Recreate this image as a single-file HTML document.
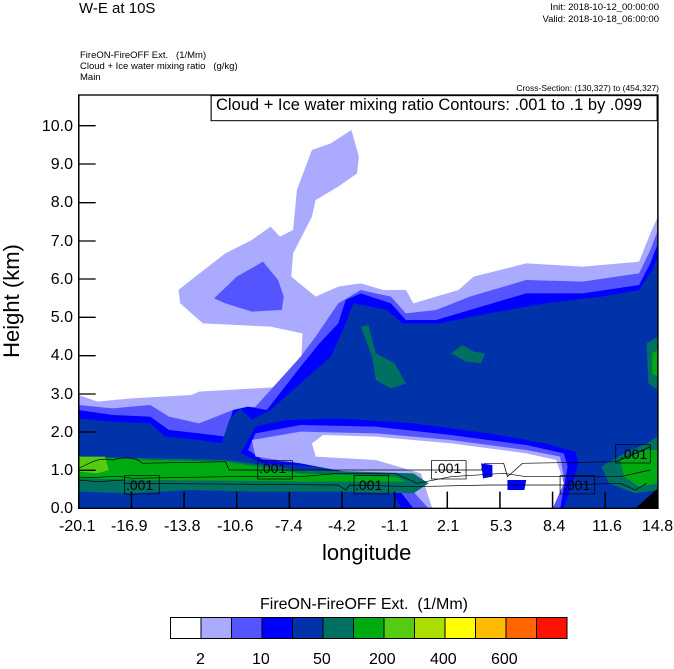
<!DOCTYPE html>
<html><head><style>
body{margin:0;background:#fff;width:674px;height:667px;position:relative;overflow:hidden;font-family:"Liberation Sans",sans-serif;color:#000}
.t{position:absolute;white-space:nowrap}
</style></head><body>
<div class="t" style="left:79px;top:0px;font-size:15px">W-E at 10S</div>
<div class="t" style="right:15px;top:2px;font-size:9.5px;text-align:right;line-height:12px">Init: 2018-10-12_00:00:00<br>Valid: 2018-10-18_06:00:00</div>
<div class="t" style="left:80px;top:50px;font-size:9.5px;line-height:11px">FireON-FireOFF Ext.&nbsp;&nbsp; (1/Mm)<br>Cloud + Ice water mixing ratio&nbsp;&nbsp; (g/kg)<br>Main</div>
<div class="t" style="right:15px;top:83px;font-size:8.5px">Cross-Section: (130,327) to (454,327)</div>

<svg style="position:absolute;left:75px;top:90px" width="584" height="420" viewBox="0 0 1553 1260" preserveAspectRatio="none">
<rect x="10" y="15" width="1540" height="1240" fill="#fff"/>
<path fill="#aaaaff" d="M10,915 L60,935 150,925 310,915 330,905 560,890 600,860 605,730 520,710 340,700 280,640 275,600 320,560 400,490 470,450 520,410 545,440 580,420 590,300 630,180 680,160 735,120 755,200 750,250 700,290 640,330 630,380 580,490 575,560 640,620 700,590 760,580 820,600 880,600 900,640 960,620 1020,600 1060,560 1200,520 1350,530 1500,515 1530,430 1550,380 L1550,1255 10,1255Z"/>
<path fill="#5555ff" d="M370,625 430,560 500,515 540,570 555,620 550,660 470,665 400,640Z"/>
<path fill="#5555ff" d="M10,945 L100,955 200,945 250,980 330,1000 420,960 480,950 600,800 640,740 700,640 760,600 840,620 880,670 960,660 1050,620 1200,570 1350,575 1500,550 1530,480 1550,420 L1550,1255 10,1255Z"/>
<path fill="#0000ff" d="M10,960 L100,975 200,980 250,1020 330,1030 400,1040 420,960 460,950 510,960 600,830 650,760 700,700 720,630 760,610 840,640 880,690 960,690 1050,660 1200,610 1350,610 1500,585 1530,520 1550,460 L1550,1255 10,1255Z"/>
<path fill="#0033aa" d="M10,985 L100,995 200,1000 240,1040 330,1050 390,1060 410,990 440,955 470,990 520,960 600,880 680,800 720,700 740,640 830,660 870,700 970,700 1100,670 1250,640 1400,620 1500,600 1535,540 1550,500 L1550,1255 10,1255Z"/>
<path fill="#0000ff" d="M480,1010 L560,990 700,985 900,1000 1100,1030 1250,1060 1330,1085 1340,1120 1300,1255 870,1255 800,1140 500,1120 440,1090Z"/>
<path fill="#5555ff" d="M480,1030 L600,1005 800,1010 1000,1035 1200,1065 1300,1090 1310,1130 1290,1255 900,1255 820,1140 500,1110 460,1080Z"/>
<path fill="#aaaaff" d="M470,1050 L600,1025 800,1030 1000,1050 1200,1080 1290,1100 1300,1160 1280,1230 1120,1240 940,1255 880,1180 600,1120 480,1100Z"/>
<path fill="#fff" d="M630,1060 L660,1035 800,1040 1000,1060 1200,1090 1280,1110 1300,1180 1270,1255 950,1255 920,1150 800,1110 640,1100Z"/>
<path fill="#007060" d="M10,1100 L400,1110 600,1140 900,1150 940,1180 900,1210 700,1205 500,1205 300,1200 150,1210 10,1205Z"/>
<path fill="#00aa11" d="M10,1100 L200,1110 400,1115 600,1150 850,1160 880,1175 600,1175 400,1172 200,1170 10,1165Z"/>
<path fill="#55cc11" d="M10,1100 L80,1100 90,1140 60,1150 10,1145Z"/>
<path fill="#007060" d="M1400,1130 L1460,1090 1520,1060 1550,1040 1550,1200 1490,1210 1420,1180Z"/>
<path fill="#00aa11" d="M1450,1110 L1520,1080 1550,1080 1550,1180 1500,1190 1460,1160Z"/>
<path fill="#007060" d="M760,710 L780,705 800,790 850,820 880,880 840,895 800,870 790,800Z"/>
<path fill="#007060" d="M1000,790 L1030,765 1060,785 1090,790 1080,820 1040,815Z"/>
<path fill="#007060" d="M1520,760 L1550,740 1550,900 1525,880Z"/>
<path fill="#00aa11" d="M1535,790 L1550,780 1550,860 1535,850Z"/>
<path fill="#0000ff" d="M1080,1120 L1110,1125 1110,1160 1085,1165Z"/>
<path fill="#0000ff" d="M1150,1170 L1200,1170 1195,1200 1150,1200Z"/>
<path fill="#000" d="M1490,1255 L1550,1195 1550,1255Z"/>
<g fill="none" stroke="#000" stroke-width="2">
<path d="M10,1135 C40,1120 60,1100 100,1110 C130,1100 160,1100 180,1120 L400,1115 L410,1140 L1080,1140 L1090,1120 L1140,1120 L1150,1160 L1190,1120 L1440,1115 L1530,1070"/>
<path d="M10,1160 C50,1170 100,1150 150,1165 L400,1160 L600,1160 L700,1150 L850,1150 L910,1180 L1000,1160 L1140,1150 L1200,1160 L1450,1160 L1530,1140"/>
<path d="M130,1180 L700,1185 L720,1200 L730,1185 L900,1190 L1100,1185 L1300,1185 L1450,1180 L1490,1200 L1520,1180"/>
<path d="M10,1170 L60,1175 L130,1170"/>
</g>
<g fill="none" stroke="#000" stroke-width="2">
<rect x="132" y="1157" width="92" height="55"/>
<rect x="486" y="1112" width="92" height="55"/>
<rect x="742" y="1157" width="92" height="55"/>
<rect x="948" y="1112" width="92" height="55"/>
<rect x="1290" y="1157" width="92" height="55"/>
<rect x="1438" y="1064" width="92" height="55"/>
</g>
<g stroke="#000" stroke-width="4">
<path d="M10,107h45M10,222h45M10,338h45M10,453h45M10,567h45M10,682h45M10,797h45M10,912h45M10,1026h45M10,1141h45"/>
<path d="M150,1255v-50M290,1255v-50M430,1255v-50M570,1255v-50M710,1255v-50M850,1255v-50M990,1255v-50M1130,1255v-50M1270,1255v-50M1410,1255v-50"/>
</g>
<rect x="10" y="15" width="1540" height="1240" fill="none" stroke="#000" stroke-width="4"/>
<rect x="362" y="17" width="1186" height="75" fill="#fff" stroke="#000" stroke-width="3"/>
</svg>
<div class="t" style="left:216px;top:96px;font-size:16.5px">Cloud + Ice water mixing ratio Contours: .001 to .1 by .099</div>
<div class="t" style="left:126px;top:477px;font-size:14px">.001</div>
<div class="t" style="left:259px;top:460px;font-size:14px">.001</div>
<div class="t" style="left:355px;top:477px;font-size:14px">.001</div>
<div class="t" style="left:434px;top:460px;font-size:14px">.001</div>
<div class="t" style="left:563px;top:477px;font-size:14px">.001</div>
<div class="t" style="left:620px;top:446px;font-size:14px">.001</div>

<div style="position:absolute;left:20px;top:0;font-size:16px;line-height:16px">
<div class="t" style="right:-53px;top:119px;text-align:right">10.0</div>
<div class="t" style="right:-53px;top:157px">9.0</div>
<div class="t" style="right:-53px;top:195px">8.0</div>
<div class="t" style="right:-53px;top:234px">7.0</div>
<div class="t" style="right:-53px;top:272px">6.0</div>
<div class="t" style="right:-53px;top:310px">5.0</div>
<div class="t" style="right:-53px;top:348px">4.0</div>
<div class="t" style="right:-53px;top:387px">3.0</div>
<div class="t" style="right:-53px;top:425px">2.0</div>
<div class="t" style="right:-53px;top:463px">1.0</div>
<div class="t" style="right:-53px;top:501px">0.0</div>
</div>
<div style="position:absolute;top:518px;left:0;font-size:16px">
<div class="t" style="left:59px">-20.1</div>
<div class="t" style="left:111px">-16.9</div>
<div class="t" style="left:164px">-13.8</div>
<div class="t" style="left:217px">-10.6</div>
<div class="t" style="left:275px">-7.4</div>
<div class="t" style="left:328px">-4.2</div>
<div class="t" style="left:381px">-1.1</div>
<div class="t" style="left:437px">2.1</div>
<div class="t" style="left:490px">5.3</div>
<div class="t" style="left:543px">8.4</div>
<div class="t" style="left:592px">11.6</div>
<div class="t" style="left:642px">14.8</div>
</div>
<div class="t" style="left:322px;top:540px;font-size:22px">longitude</div>
<div class="t" style="left:-53px;top:288px;font-size:22px;transform:rotate(-90deg);width:130px;text-align:center">Height (km)</div>

<div class="t" style="left:260px;top:596px;font-size:16px">FireON-FireOFF Ext.&nbsp; (1/Mm)</div>
<svg style="position:absolute;left:170px;top:617px" width="398" height="22">
<g stroke="#000" stroke-width="1">
<rect x="0.5" y="0.5" width="30.5" height="21" fill="#fff"/>
<rect x="31" y="0.5" width="30.5" height="21" fill="#aaaaff"/>
<rect x="61.5" y="0.5" width="30.5" height="21" fill="#5555ff"/>
<rect x="92" y="0.5" width="30.5" height="21" fill="#0000ff"/>
<rect x="122.5" y="0.5" width="30.5" height="21" fill="#0033aa"/>
<rect x="153" y="0.5" width="30.5" height="21" fill="#007060"/>
<rect x="183.5" y="0.5" width="30.5" height="21" fill="#00aa11"/>
<rect x="214" y="0.5" width="30.5" height="21" fill="#55cc11"/>
<rect x="244.5" y="0.5" width="30.5" height="21" fill="#aadd00"/>
<rect x="275" y="0.5" width="30.5" height="21" fill="#ffff00"/>
<rect x="305.5" y="0.5" width="30.5" height="21" fill="#ffbb00"/>
<rect x="336" y="0.5" width="30.5" height="21" fill="#ff6600"/>
<rect x="366.5" y="0.5" width="30.5" height="21" fill="#ff1100"/>
</g></svg>
<div style="position:absolute;top:651px;left:0;font-size:16px">
<div class="t" style="left:196px">2</div>
<div class="t" style="left:252px">10</div>
<div class="t" style="left:313px">50</div>
<div class="t" style="left:369px">200</div>
<div class="t" style="left:430px">400</div>
<div class="t" style="left:491px">600</div>
</div>
</body></html>
